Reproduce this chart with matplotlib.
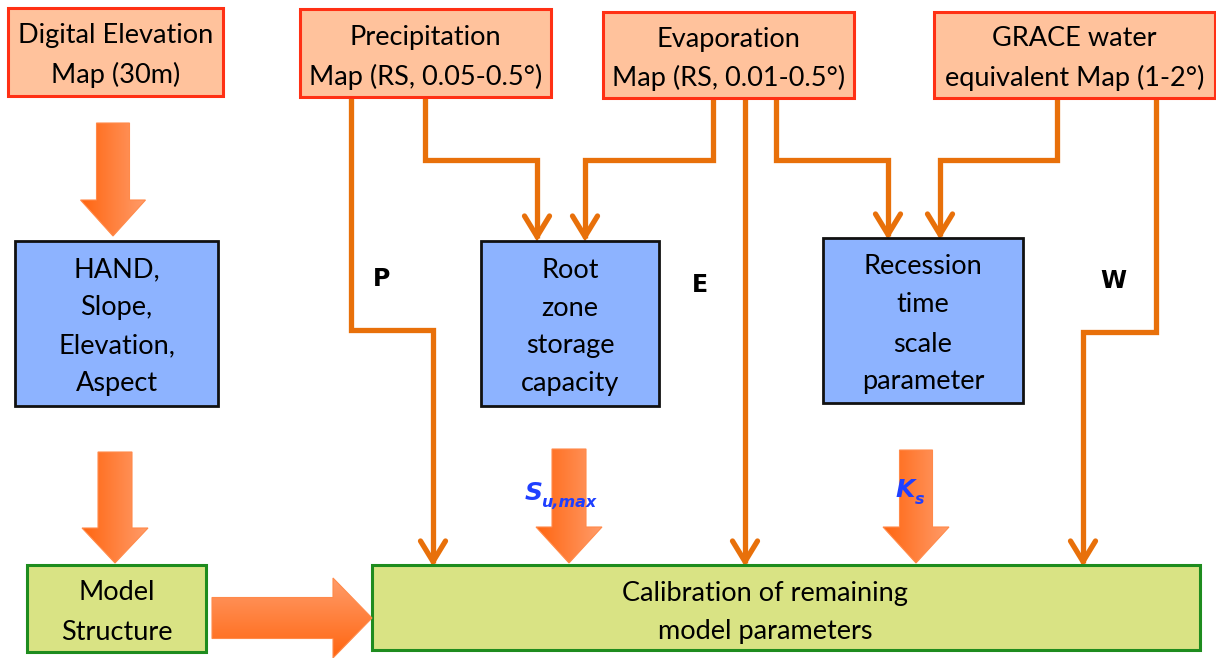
import matplotlib
matplotlib.use("Agg")
import matplotlib.pyplot as plt
import numpy as np
from matplotlib.patches import Rectangle, Polygon
from matplotlib.colors import LinearSegmentedColormap

# ---------------- content ----------------
input_labels = [
    ["Digital Elevation", "Map (30m)"],
    ["Precipitation", "Map (RS, 0.05-0.5°)"],
    ["Evaporation", "Map (RS, 0.01-0.5°)"],
    ["GRACE water", "equivalent Map (1-2°)"],
]
process_labels = [
    ["HAND,", "Slope,", "Elevation,", "Aspect"],
    ["Root", "zone", "storage", "capacity"],
    ["Recession", "time", "scale", "parameter"],
]
output_labels = [
    ["Model", "Structure"],
    ["Calibration of remaining", "model parameters"],
]
flux_labels = ["P", "E", "W"]
param_main = ["S", "K"]
param_sub = ["u,max", "s"]

# ---------------- layout (pixel space) ----------------
W, H = 1216, 658
input_boxes = [(8, 8, 223, 96), (300, 9, 551, 97), (603, 12, 854, 98), (934, 12, 1215, 98)]
input_text_y = [(36, 75), (37, 77), (39, 78), (39, 78)]
process_boxes = [(15, 241, 218, 406), (481, 241, 659, 406), (823, 238, 1023, 403)]
process_text_y = [[270, 308, 346, 384], [270, 308, 346, 384], [267, 305, 344, 382]]
output_boxes = [(27, 565, 206, 652), (372, 565, 1200, 650)]
output_text_y = [(593, 632), (593, 632)]

fig = plt.figure(figsize=(W / 100, H / 100), dpi=100)
ax = fig.add_axes([0, 0, 1, 1])
ax.axis("off")

FONT = "Lato"
TXT = 19.5

def box(b, fc, ec, lw):
    x0, y0, x1, y1 = b
    ax.add_patch(Rectangle((x0, y0), x1 - x0, y1 - y0, facecolor=fc, edgecolor=ec,
                           linewidth=lw, zorder=3))

for b, lines, ys in zip(input_boxes, input_labels, input_text_y):
    box(b, "#FFC29C", "#FF3014", 2.2)
    xc = (b[0] + b[2]) / 2
    for t, y in zip(lines, ys):
        ax.text(xc, y, t, ha="center", va="center", fontsize=TXT, family=FONT, zorder=5)

for b, lines, ys in zip(process_boxes, process_labels, process_text_y):
    box(b, "#8DB3FF", "#111111", 2.0)
    xc = (b[0] + b[2]) / 2
    for t, y in zip(lines, ys):
        ax.text(xc, y, t, ha="center", va="center", fontsize=TXT, family=FONT, zorder=5)

out_text_x = [(output_boxes[0][0] + output_boxes[0][2]) / 2, 765]
for b, lines, ys, xc in zip(output_boxes, output_labels, output_text_y, out_text_x):
    box(b, "#D9E384", "#1E8C1E", 2.2)
    for t, y in zip(lines, ys):
        ax.text(xc, y, t, ha="center", va="center", fontsize=TXT, family=FONT, zorder=5)

# ---------------- thin elbow arrows ----------------
THIN = "#E8700A"
def elbow(points, head=True):
    xs = [p[0] for p in points]
    ys = [p[1] for p in points]
    ax.plot(xs, ys, color=THIN, lw=3.8, solid_joinstyle="miter", solid_capstyle="butt", zorder=2)
    if head:
        xt, yt = points[-1]
        hw, hl = 12.5, 22
        ax.plot([xt - hw, xt, xt + hw], [yt - hl, yt - 1.5, yt - hl], color=THIN, lw=3.8,
                solid_joinstyle="miter", solid_capstyle="round", zorder=2)

elbow([(351, 97), (351, 330), (433, 330), (433, 563)])          # P
elbow([(425, 97), (425, 160), (537, 160), (537, 238)])          # precip -> root zone
elbow([(713, 98), (713, 160), (585, 160), (585, 238)])          # evap -> root zone
elbow([(745, 98), (745, 563)])                                  # E
elbow([(776, 98), (776, 160), (888, 160), (888, 236)])          # evap -> recession
elbow([(1057, 98), (1057, 160), (940, 160), (940, 236)])        # GRACE -> recession
elbow([(1156, 98), (1156, 332), (1083, 332), (1083, 563)])      # W

flux_pos = [(382, 279), (700, 285), (1113, 281)]
for t, (x, y) in zip(flux_labels, flux_pos):
    ax.text(x, y, t, ha="center", va="center", fontsize=17, fontweight="bold",
            family="DejaVu Sans", zorder=5)

# ---------------- gradient block arrows ----------------
cmap = LinearSegmentedColormap.from_list("og", ["#FF6510", "#FF9C6A"])
grad = np.linspace(0, 1, 256).reshape(1, -1)

def block_down(xc, y0, y1, sw, hw, hl):
    verts = [(xc - sw / 2, y0), (xc + sw / 2, y0), (xc + sw / 2, y1 - hl), (xc + hw / 2, y1 - hl),
             (xc, y1), (xc - hw / 2, y1 - hl), (xc - sw / 2, y1 - hl)]
    poly = Polygon(verts, closed=True, facecolor="none", edgecolor="#FF8A4A", lw=0.8, zorder=4)
    ax.add_patch(poly)
    im = ax.imshow(grad, extent=[xc - hw / 2, xc + hw / 2, y1, y0], cmap=cmap,
                   aspect="auto", zorder=3.5, interpolation="bilinear")
    im.set_clip_path(poly)

def block_right(yc, x0, x1, sw, hw, hl):
    verts = [(x0, yc - sw / 2), (x1 - hl, yc - sw / 2), (x1 - hl, yc - hw / 2), (x1, yc),
             (x1 - hl, yc + hw / 2), (x1 - hl, yc + sw / 2), (x0, yc + sw / 2)]
    poly = Polygon(verts, closed=True, facecolor="none", edgecolor="#FF8A4A", lw=0.8, zorder=4)
    ax.add_patch(poly)
    g = np.linspace(1, 0, 256).reshape(-1, 1)
    im = ax.imshow(g, extent=[x0, x1, yc + hw / 2, yc - hw / 2], cmap=cmap,
                   aspect="auto", zorder=3.5, interpolation="bilinear", origin="upper")
    im.set_clip_path(poly)

block_down(113, 123, 236, 33, 65, 36)
block_down(115, 452, 563, 34, 66, 35)
block_down(569, 449, 563, 34, 66, 36)
block_down(916, 450, 563, 33, 66, 36)
block_right(618, 212, 372, 41, 80, 39)

# parameter labels
BLUE = "#1F3FFF"
param_pos = [(525, 500), (895, 497)]
sub_dx = [16, 20]
for m, s, (x, y), dx in zip(param_main, param_sub, param_pos, sub_dx):
    ax.text(x, y, m, ha="left", va="baseline", fontsize=18, fontweight="bold", style="italic",
            color=BLUE, family="DejaVu Sans", zorder=6)
    ax.text(x + dx, y + 7, s, ha="left", va="baseline", fontsize=11.5, fontweight="bold",
            style="italic", color=BLUE, family="DejaVu Sans", zorder=6)

ax.set_xlim(0, W)
ax.set_ylim(H, 0)
fig.savefig("out.png", dpi=100, facecolor="white")
